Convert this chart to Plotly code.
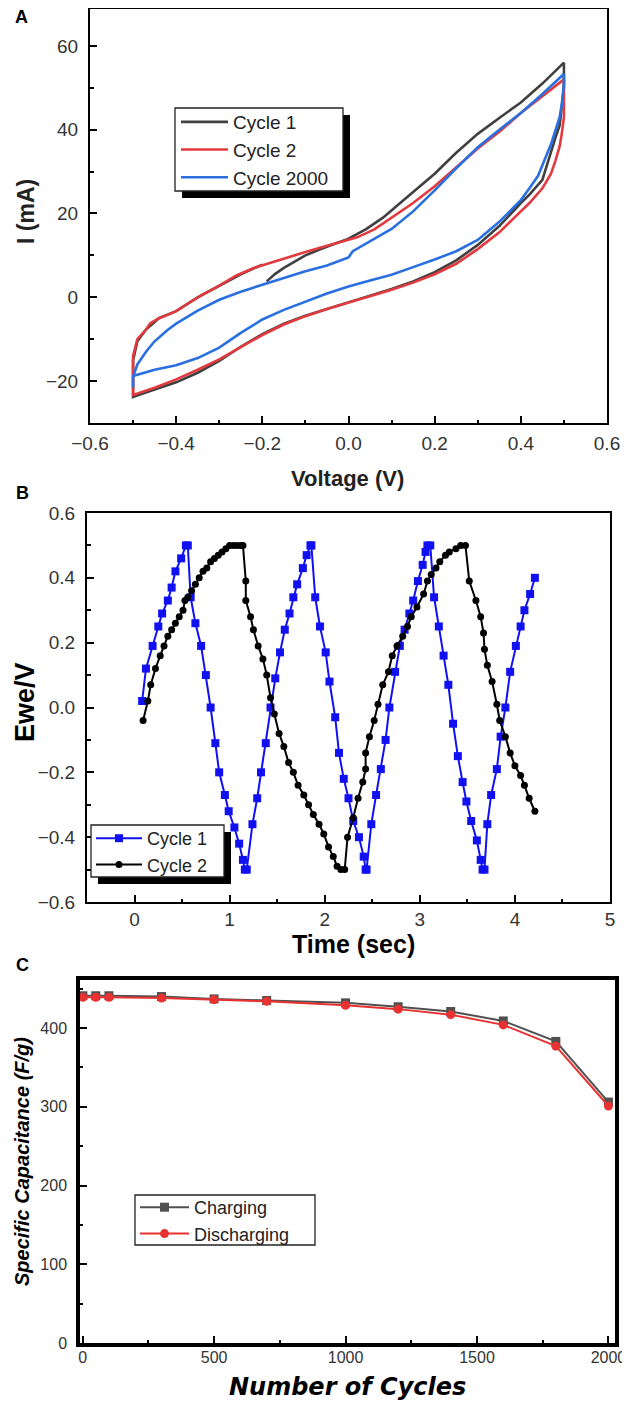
import plotly.graph_objects as go

# page is 630x1405; the html body adds an 8px margin, so the figure is 622x1397
OFF = 8
W, H = 630 - OFF, 1405 - OFF

# ---------------- Panel A : cyclic voltammetry ----------------
a_c1_v = [-0.19, -0.17, -0.15, -0.12, -0.10, -0.07, -0.04, 0.00, 0.04, 0.08, 0.12, 0.16, 0.20, 0.25, 0.30, 0.35, 0.40, 0.45, 0.50,
          0.50, 0.50, 0.495, 0.49, 0.48, 0.47, 0.45, 0.42, 0.40, 0.35, 0.30, 0.25, 0.20, 0.15, 0.10, 0.05, 0.00, -0.05, -0.10,
          -0.15, -0.20, -0.25, -0.30, -0.35, -0.40, -0.45, -0.50,
          -0.50, -0.50, -0.49, -0.47, -0.44, -0.40, -0.35, -0.30, -0.25, -0.20]
a_c1_i = [3.8, 5.6, 7.0, 8.7, 10.0, 11.3, 12.5, 14.0, 16.2, 19.0, 22.5, 26.0, 29.5, 34.5, 39.0, 42.8, 46.5, 51.0, 56.0,
          56.0, 50.0, 45.0, 41.0, 38.0, 34.5, 28.0, 24.5, 22.5, 17.0, 12.5, 8.8, 6.0, 3.8, 2.0, 0.4, -1.2, -2.8, -4.4,
          -6.3, -8.8, -11.8, -15.2, -18.0, -20.3, -22.0, -23.8,
          -23.5, -15.0, -10.5, -7.7, -5.0, -3.3, 0.0, 2.8, 5.5, 7.8]

a_c2_v = [-0.50, -0.50, -0.49, -0.47, -0.46, -0.44, -0.42, -0.40, -0.37, -0.34, -0.30, -0.26, -0.22, -0.18, -0.14, -0.10,
          -0.06, -0.02, 0.02, 0.06, 0.10, 0.15, 0.20, 0.25, 0.30, 0.35, 0.40, 0.45, 0.50,
          0.50, 0.50, 0.495, 0.49, 0.48, 0.47, 0.45, 0.42, 0.40, 0.35, 0.30, 0.25, 0.20, 0.15, 0.10, 0.05, 0.00, -0.05,
          -0.10, -0.15, -0.20, -0.25, -0.30, -0.35, -0.40, -0.45, -0.50, -0.50]
a_c2_i = [-18.0, -14.0, -10.0, -7.7, -6.2, -5.0, -4.2, -3.3, -1.3, 0.6, 2.8, 5.2, 7.0, 8.3, 9.5, 10.8,
          12.0, 13.2, 14.3, 16.2, 19.0, 22.5, 26.5, 31.0, 35.5, 39.5, 44.0, 48.0, 52.0,
          47.0, 43.0, 39.0, 36.0, 32.5, 29.5, 26.0, 22.5, 20.5, 15.5, 11.5, 8.0, 5.5, 3.5, 1.8, 0.3, -1.3, -2.8,
          -4.5, -6.5, -9.0, -12.0, -14.8, -17.3, -19.6, -21.6, -23.3, -18.0]

a_c2000_v = [-0.50, -0.50, -0.49, -0.47, -0.45, -0.42, -0.40, -0.35, -0.30, -0.25, -0.20, -0.15, -0.10, -0.05, -0.01, 0.00,
             0.01, 0.05, 0.10, 0.15, 0.20, 0.25, 0.30, 0.35, 0.40, 0.45, 0.50,
             0.50, 0.495, 0.49, 0.48, 0.47, 0.45, 0.44, 0.42, 0.40, 0.35, 0.30, 0.25, 0.20, 0.15, 0.10, 0.05, 0.00,
             -0.05, -0.10, -0.15, -0.20, -0.25, -0.30, -0.35, -0.40, -0.45, -0.50, -0.50]
a_c2000_i = [-21.5, -19.0, -16.0, -13.0, -10.5, -7.8, -6.3, -3.2, -0.6, 1.3, 3.0, 4.6, 6.2, 7.6, 9.0, 9.5,
             11.0, 13.3, 16.3, 20.5, 25.5, 30.8, 35.8, 40.0, 44.0, 48.5, 53.3,
             51.0, 46.0, 43.0, 39.5, 36.5, 31.5, 29.0, 26.0, 23.2, 18.0, 13.7, 11.0, 9.0, 7.2, 5.4, 4.0, 2.6,
             0.9, -1.0, -3.0, -5.3, -8.5, -12.0, -14.5, -16.2, -17.3, -18.8, -21.5]

# ---------------- Panel B : charge / discharge ----------------
b_c1_t = [0.08, 0.12, 0.19, 0.25, 0.29, 0.35, 0.39, 0.43, 0.49, 0.54, 0.56,
          0.59, 0.64, 0.70, 0.75, 0.80, 0.85, 0.89, 0.95, 0.99, 1.05, 1.10, 1.14, 1.16, 1.18,
          1.24, 1.29, 1.33, 1.38, 1.43, 1.48, 1.53, 1.58, 1.63, 1.67, 1.71, 1.77, 1.81, 1.85, 1.86,
          1.90, 1.95, 2.01, 2.05, 2.11, 2.15, 2.20, 2.25, 2.30, 2.36, 2.41, 2.43, 2.44,
          2.49, 2.54, 2.59, 2.64, 2.68, 2.74, 2.79, 2.84, 2.89, 2.93, 2.98, 3.03, 3.06, 3.08, 3.11,
          3.15, 3.20, 3.25, 3.30, 3.35, 3.40, 3.45, 3.49, 3.54, 3.60, 3.64, 3.66, 3.68,
          3.71, 3.75, 3.81, 3.85, 3.90, 3.95, 4.01, 4.06, 4.10, 4.16, 4.21]
b_c1_e = [0.02, 0.12, 0.19, 0.25, 0.29, 0.33, 0.37, 0.42, 0.46, 0.50, 0.50,
          0.34, 0.26, 0.19, 0.10, 0.00, -0.11, -0.20, -0.27, -0.32, -0.37, -0.42, -0.47, -0.50, -0.50,
          -0.36, -0.28, -0.20, -0.11, 0.00, 0.09, 0.17, 0.24, 0.29, 0.34, 0.38, 0.43, 0.47, 0.50, 0.50,
          0.34, 0.25, 0.17, 0.08, -0.03, -0.14, -0.22, -0.28, -0.35, -0.40, -0.46, -0.50, -0.50,
          -0.36, -0.27, -0.19, -0.10, 0.00, 0.11, 0.19, 0.24, 0.29, 0.33, 0.39, 0.44, 0.48, 0.50, 0.50,
          0.34, 0.25, 0.16, 0.07, -0.05, -0.15, -0.23, -0.29, -0.35, -0.41, -0.47, -0.50, -0.50,
          -0.36, -0.27, -0.19, -0.09, 0.00, 0.11, 0.19, 0.25, 0.30, 0.35, 0.40]

b_c2_t = [0.09, 0.14, 0.17, 0.22, 0.27, 0.31, 0.35, 0.39, 0.43, 0.47, 0.51, 0.53, 0.56, 0.60, 0.64, 0.68, 0.72, 0.76,
          0.80, 0.84, 0.88, 0.92, 0.96, 1.00, 1.04, 1.08, 1.12, 1.14,
          1.17, 1.17, 1.22, 1.25, 1.30, 1.35, 1.39, 1.43, 1.47, 1.52, 1.57, 1.62, 1.67, 1.72, 1.78, 1.83, 1.88, 1.94,
          1.99, 2.04, 2.09, 2.13, 2.17, 2.21,
          2.24, 2.30, 2.35, 2.40, 2.43, 2.43, 2.47, 2.52, 2.56, 2.61, 2.67, 2.71, 2.76, 2.82, 2.87, 2.91, 2.97, 3.04,
          3.08, 3.12, 3.17, 3.21, 3.27, 3.31, 3.38, 3.43, 3.48,
          3.52, 3.59, 3.64, 3.67, 3.68, 3.71, 3.76, 3.81, 3.84, 3.90, 3.95, 4.00, 4.06, 4.10, 4.15, 4.21]
b_c2_e = [-0.04, 0.02, 0.07, 0.12, 0.16, 0.19, 0.22, 0.24, 0.26, 0.28, 0.30, 0.33, 0.34, 0.36, 0.38, 0.40, 0.42, 0.43,
          0.45, 0.46, 0.47, 0.48, 0.49, 0.50, 0.50, 0.50, 0.50, 0.50,
          0.39, 0.33, 0.28, 0.24, 0.19, 0.15, 0.10, 0.03, -0.02, -0.08, -0.12, -0.17, -0.20, -0.24, -0.27, -0.30, -0.33, -0.36,
          -0.39, -0.43, -0.46, -0.49, -0.50, -0.50,
          -0.40, -0.34, -0.28, -0.23, -0.19, -0.14, -0.09, -0.04, 0.01, 0.07, 0.11, 0.16, 0.19, 0.22, 0.25, 0.28, 0.31, 0.35,
          0.39, 0.41, 0.43, 0.45, 0.47, 0.48, 0.49, 0.50, 0.50,
          0.39, 0.33, 0.28, 0.23, 0.18, 0.13, 0.08, 0.01, -0.04, -0.09, -0.14, -0.18, -0.21, -0.24, -0.28, -0.32]

# ---------------- Panel C : cycling stability ----------------
c_cycles = [1, 50, 100, 300, 500, 700, 1000, 1200, 1400, 1600, 1800, 2000]
c_charging = [441, 441, 441, 440, 437, 435, 432, 427, 421, 409, 383, 306]
c_discharging = [439, 439, 439, 438, 436, 434, 429, 424, 417, 404, 377, 301]

FONT = "Liberation Sans"


def px_x(x):
    return (x - OFF) / W


def px_y(y):
    return 1 - (y - OFF) / H


fig = go.Figure()

# Panel A traces
fig.add_trace(go.Scatter(x=a_c1_v, y=a_c1_i, mode="lines", name="Cycle 1",
                         line=dict(color="#404040", width=2.6), xaxis="x", yaxis="y", legend="legend"))
fig.add_trace(go.Scatter(x=a_c2_v, y=a_c2_i, mode="lines", name="Cycle 2",
                         line=dict(color="#e23a3e", width=2.6), xaxis="x", yaxis="y", legend="legend"))
fig.add_trace(go.Scatter(x=a_c2000_v, y=a_c2000_i, mode="lines", name="Cycle 2000",
                         line=dict(color="#2a6fe0", width=2.6), xaxis="x", yaxis="y", legend="legend"))

# Panel B traces
fig.add_trace(go.Scatter(x=b_c1_t, y=b_c1_e, mode="lines+markers", name="Cycle 1",
                         line=dict(color="#1010f0", width=2),
                         marker=dict(symbol="square", size=8, color="#1010f0"),
                         xaxis="x2", yaxis="y2", legend="legend2"))
fig.add_trace(go.Scatter(x=b_c2_t, y=b_c2_e, mode="lines+markers", name="Cycle 2",
                         line=dict(color="#000000", width=2),
                         marker=dict(symbol="circle", size=7, color="#000000"),
                         xaxis="x2", yaxis="y2", legend="legend2"))

# Panel C traces
fig.add_trace(go.Scatter(x=c_cycles, y=c_charging, mode="lines+markers", name="Charging",
                         line=dict(color="#505050", width=2),
                         marker=dict(symbol="square", size=9, color="#505050"),
                         xaxis="x3", yaxis="y3", legend="legend3"))
fig.add_trace(go.Scatter(x=c_cycles, y=c_discharging, mode="lines+markers", name="Discharging",
                         line=dict(color="#e83232", width=2),
                         marker=dict(symbol="circle", size=9, color="#e83232"),
                         xaxis="x3", yaxis="y3", legend="legend3"))

tickfont = dict(family=FONT, size=19, color="#333333")


def axis(domain, rng, dtick, minor_dtick, anchor, lw=2, font=tickfont, standoff=8):
    return dict(domain=domain, range=rng, dtick=dtick, tick0=0, anchor=anchor,
                showline=True, mirror=True, linecolor="black", linewidth=lw,
                ticks="inside", ticklen=7, tickwidth=2, tickcolor="black",
                minor=dict(ticks="inside", ticklen=3.5, tickwidth=1.5, tickcolor="black", dtick=minor_dtick),
                showgrid=False, zeroline=False, tickfont=font, ticklabelstandoff=standoff,
                automargin=False)


# pixel boxes of each panel (page pixels)
A = dict(l=90, r=607, t=9, b=423)
B = dict(l=87, r=610, t=513, b=902)
C = dict(l=80, r=615, t=980, b=1343)


def dom(p):
    return [max(0.0, px_x(p["l"])), min(1.0, px_x(p["r"]))], [max(0.0, px_y(p["b"])), min(1.0, px_y(p["t"]))]


ax_dx, ax_dy = dom(A)
bx_dx, bx_dy = dom(B)
cx_dx, cx_dy = dom(C)

tickfont_c = dict(family=FONT, size=16, color="#333333")

fig.update_layout(
    width=W, height=H, margin=dict(l=0, r=0, t=0, b=0, pad=0, autoexpand=False),
    paper_bgcolor="white", plot_bgcolor="white",
    xaxis=axis(ax_dx, [-0.6, 0.6], 0.2, 0.1, "y", standoff=2),
    yaxis=axis(ax_dy, [-30, 68.8], 20, 10, "x", standoff=6),
    xaxis2=axis(bx_dx, [-0.5, 5], 1, 0.5, "y2", standoff=-1),
    yaxis2=axis(bx_dy, [-0.6, 0.6], 0.2, 0.1, "x2", standoff=6),
    xaxis3=axis(cx_dx, [-10, 2025], 500, 250, "y3", lw=3.5, font=tickfont_c, standoff=-3),
    yaxis3=axis(cx_dy, [0, 461], 100, 50, "x3", lw=3.5, font=tickfont_c, standoff=6),
)
fig.update_layout(yaxis2=dict(tickformat=".1f"), xaxis=dict(tickformat=".1f"))

legend_common = dict(bgcolor="rgba(0,0,0,0)", borderwidth=0, xanchor="left", yanchor="top",
                     tracegroupgap=0)
fig.update_layout(
    legend=dict(legend_common, x=px_x(176), y=px_y(103), itemwidth=47,
                font=dict(family=FONT, size=19, color="#222222")),
    legend2=dict(legend_common, x=px_x(91), y=px_y(820), itemwidth=46,
                 font=dict(family=FONT, size=18, color="#222222")),
    legend3=dict(legend_common, x=px_x(135), y=px_y(1189), itemwidth=49,
                 font=dict(family=FONT, size=18, color="#222222")),
    showlegend=True,
)

shapes = []


def legend_box(l, t, r, b, shadow):
    if shadow:
        shapes.append(dict(type="rect", xref="paper", yref="paper", layer="above",
                           x0=px_x(l + 7), x1=px_x(r + 7), y0=px_y(b + 7), y1=px_y(t + 7),
                           fillcolor="black", line=dict(width=0)))
    shapes.append(dict(type="rect", xref="paper", yref="paper", layer="above",
                       x0=px_x(l), x1=px_x(r), y0=px_y(b), y1=px_y(t),
                       fillcolor="white", line=dict(color="#222222", width=1.3)))


legend_box(175, 108, 343, 191, True)
legend_box(91, 825, 224, 877, True)
legend_box(135, 1195, 315, 1245, False)
fig.update_layout(shapes=shapes)

ann = []


def text(x, y, s, size, angle=0, family=FONT, color="black"):
    ann.append(dict(xref="paper", yref="paper", x=px_x(x), y=px_y(y), text=s, showarrow=False,
                    xanchor="center", yanchor="middle", textangle=angle,
                    font=dict(family=family, size=size, color=color)))


text(21, 17, "<b>A</b>", 18)
text(22, 493, "<b>B</b>", 18)
text(22, 965, "<b>C</b>", 18)
text(26, 212, "<b>I (mA)</b>", 23, angle=-90, color="#222222")
text(347, 478, "<b>Voltage (V)</b>", 22, color="#222222")
text(25, 702, "<b>Ewe/V</b>", 27, angle=-90)
text(353, 944, "<b>Time (sec)</b>", 25)
text(22, 1162, "<b><i>Specific Capacitance (F/g)</i></b>", 20, angle=-90)
text(347, 1387, "<b><i>Number of Cycles</i></b>", 24, family="DejaVu Sans")
fig.update_layout(annotations=ann)

fig.write_html("out.html")
